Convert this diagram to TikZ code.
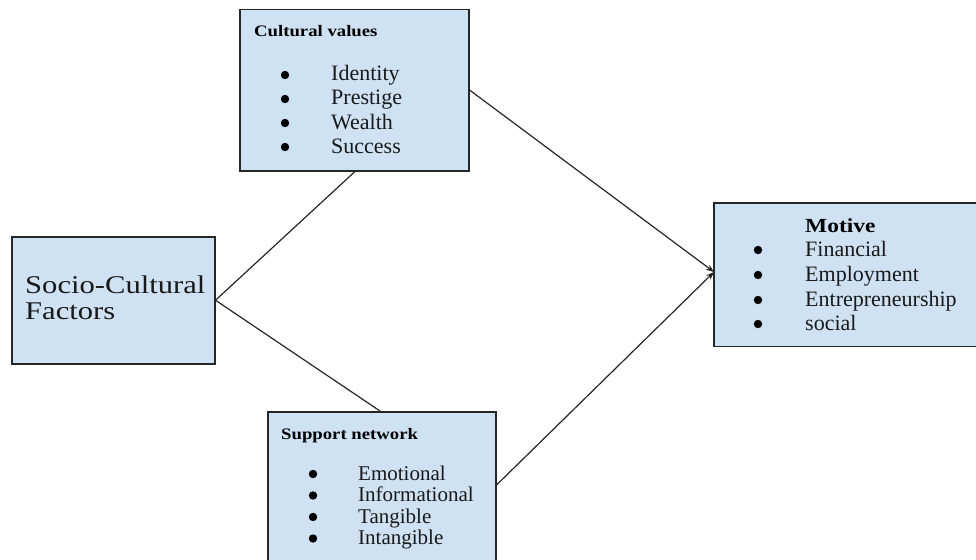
\documentclass[tikz,border=0pt]{standalone}
\usepackage{fontspec}
\setmainfont{Liberation Serif}
\newfontfamily\stretchfont{Liberation Serif}[FakeStretch=1.17]
\newfontfamily\socfont{Liberation Serif}[FakeStretch=1.2]
\usetikzlibrary{arrows.meta}
\definecolor{boxfill}{HTML}{CFE2F3}
\definecolor{edge}{HTML}{262626}
\tikzset{
  box/.style={draw=edge, line width=1.5pt, fill=boxfill, rectangle, anchor=north west, inner sep=0pt},
  dot/.style={circle, fill=black, inner sep=0pt, minimum size=8.4pt},
  item/.style={anchor=base west, inner sep=0pt, text=black!90, font=\fontsize{22pt}{24pt}\selectfont},
  sitem/.style={item, font=\fontsize{21pt}{23pt}\selectfont},
  ttl/.style={anchor=base west, inner sep=0pt, text=black, font=\stretchfont\bfseries\fontsize{16pt}{18pt}\selectfont},
  conn/.style={draw=edge, line width=1.2pt},
  arr/.style={conn, -{Stealth[length=8pt,width=6pt]}}
}
\begin{document}
\begin{tikzpicture}[x=1pt,y=-1pt]
\useasboundingbox (0,0) rectangle (976,559);
\fill[white] (0,0) rectangle (976,559);
% boxes
\node[box, minimum width=229pt, minimum height=161pt] (cv) at (239,9) {};
\node[box, minimum width=228pt, minimum height=160pt] (sn) at (267,411) {};
\node[box, draw=none, minimum width=262pt, minimum height=142pt] (mo) at (714,203) {};
\draw[edge, line width=1.5pt] (mo.north east) -- (mo.north west) -- (mo.south west) -- (mo.south east);
\node[box, minimum width=203pt, minimum height=127pt] (sc) at (11,236) {};
% socio text
\node[anchor=base west, inner sep=0pt, text=black!90, font=\socfont\fontsize{25.5pt}{27pt}\selectfont] (sc1) at (25,293) {Socio-Cultural};
\node[anchor=base west, inner sep=0pt, text=black!90, font=\socfont\fontsize{25.5pt}{27pt}\selectfont] (sc2) at (25,319) {Factors};
% cultural values
\node[ttl] (cvt) at (254,37) {Cultural values};
\node[dot] (cvb1) at (285,75) {};
\node[dot] (cvb2) at (285,99) {};
\node[dot] (cvb3) at (285,123) {};
\node[dot] (cvb4) at (285,147) {};
\node[item] (cvi1) at (331,81) {Identity};
\node[item] (cvi2) at (331,105) {Prestige};
\node[item] (cvi3) at (331,129) {Wealth};
\node[item] (cvi4) at (331,153) {Success};
% support network
\node[ttl] (snt) at (281,439) {Support network};
\node[dot] (snb1) at (313,474) {};
\node[dot] (snb2) at (313,495.5) {};
\node[dot] (snb3) at (313,517) {};
\node[dot] (snb4) at (313,538.5) {};
\node[sitem] (sni1) at (358,480) {Emotional};
\node[sitem] (sni2) at (358,501.5) {Informational};
\node[sitem] (sni3) at (358,523) {Tangible};
\node[sitem] (sni4) at (358,544.5) {Intangible};
% motive
\node[ttl, font=\stretchfont\bfseries\fontsize{20pt}{22pt}\selectfont] (mot) at (805,232) {Motive};
\node[dot] (mob1) at (758,250) {};
\node[dot] (mob2) at (758,275) {};
\node[dot] (mob3) at (758,300) {};
\node[dot] (mob4) at (758,324) {};
\node[item] (moi1) at (805,256) {Financial};
\node[item] (moi2) at (805,281) {Employment};
\node[item] (moi3) at (805,306) {Entrepreneurship};
\node[item] (moi4) at (805,330) {social};
% connector endpoints
\coordinate (scE) at (sc.east);
\coordinate (cvS) at ([xshift=116pt]cv.south west);
\coordinate (snN) at ([xshift=113pt]sn.north west);
\coordinate (cvE) at ([yshift=-81pt]cv.north east);
\coordinate (snE) at ([yshift=-74pt]sn.north east);
\coordinate (moW) at ([yshift=-69pt]mo.north west);
\draw[conn] (scE) -- (cvS);
\draw[conn] (scE) -- (snN);
\draw[arr] (cvE) -- (moW);
\draw[arr] (snE) -- (moW);
\end{tikzpicture}
\end{document}
